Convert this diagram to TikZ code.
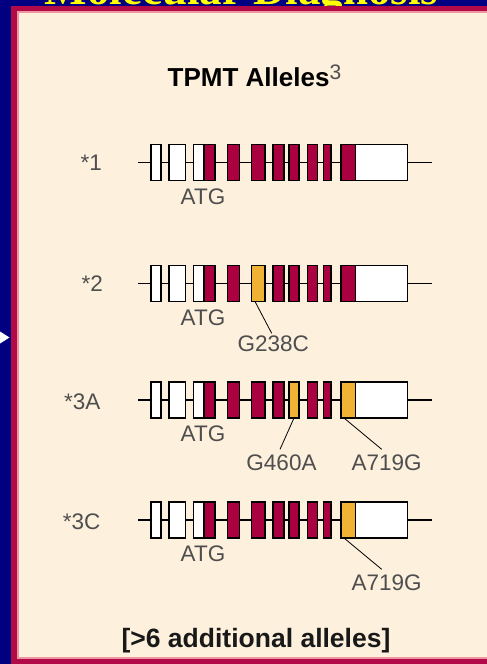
\documentclass[tikz,border=0pt]{standalone}
\usepackage{fontspec}
\setmainfont{Liberation Sans}
\newfontfamily\hdrserif{Liberation Serif}
\usetikzlibrary{calc}
\definecolor{navy}{RGB}{0,0,128}
\definecolor{bordred}{RGB}{178,10,72}
\definecolor{pinkline}{RGB}{236,150,160}
\definecolor{beige}{RGB}{253,240,221}
\definecolor{exred}{RGB}{170,0,64}
\definecolor{exorange}{RGB}{240,178,52}
\definecolor{labgray}{RGB}{78,78,78}
\definecolor{hdryellow}{RGB}{255,255,0}
\newcommand\xon[5]{\node[exon,fill=#5,minimum width={#3-#2}] (#1) at ({(#2+#3)/2},#4) {};}
\newcommand\allelerow[5]{%
 \coordinate (#1L) at (138,#2);
 \coordinate (#1R) at (432,#2);
 \draw[intron] (#1L) -- (#1R);
 \xon{#1e1}{151}{161}{#2}{white}
 \xon{#1e2}{169}{185.5}{#2}{white}
 \xon{#1e3a}{193.5}{204}{#2}{white}
 \xon{#1e3}{204}{215}{#2}{exred}
 \xon{#1e4}{227.5}{239.5}{#2}{exred}
 \xon{#1e5}{251.5}{265}{#2}{#3}
 \xon{#1e6}{273}{284}{#2}{exred}
 \xon{#1e7}{289}{299}{#2}{#4}
 \xon{#1e8}{307.5}{317.3}{#2}{exred}
 \xon{#1e9}{323.3}{331}{#2}{exred}
 \xon{#1e10}{341}{355.5}{#2}{#5}
 \xon{#1e11}{355.5}{407.5}{#2}{white}
 \node[lbl] (#1atg) at (203,{#2+34}) {ATG};
}
\begin{document}
\begin{tikzpicture}[x=1pt,y=-1pt,
  exon/.style={draw=black,line width=1.2pt,minimum height=36pt,inner sep=0pt,outer sep=0pt},
  intron/.style={draw=black,line width=1.2pt},
  lbl/.style={text=labgray,inner sep=0pt,font=\fontsize{22.5}{26}\selectfont},
  rowlbl/.style={lbl,anchor=east},
  leader/.style={draw=black,line width=0.8pt}]
\useasboundingbox (0,0) rectangle (487,664);
% background
\fill[navy] (0,0) rectangle (487,664);
\node[anchor=base,inner sep=0pt,text=hdryellow,font=\hdrserif\bfseries\fontsize{45}{50}\selectfont] (hdr) at (241.5,4.5) {Molecular Diagnosis};
\fill[white] (0,331.5) -- (9.5,337.5) -- (0,343.5) -- cycle;
% panel
\fill[bordred] (10.5,6) rectangle (495,670);
\fill[pinkline] (17,11) rectangle (495,658.5);
\fill[beige] (18.5,12.5) rectangle (495,656.5);
% title
\node[anchor=base west,inner sep=0pt,font=\fontsize{26}{30}\selectfont] (title) at (167.5,86.7)
  {\bfseries TPMT Alleles\raisebox{7pt}{\mdseries\fontsize{21}{24}\selectfont\color{labgray}3}};
% rows
\allelerow{a}{162.5}{exred}{exred}{exred}
\node[rowlbl] (an) at (102,162.5) {*1};
\allelerow{b}{283.5}{exorange}{exred}{exred}
\node[rowlbl] (bn) at (103,283.5) {*2};
\node[lbl] (bm1) at (273.3,344) {G238C};
\draw[leader] ($(be5.south west)+(3.5,0)$) -- ($(bm1.north)+(-1.6,-2.5)$);
\allelerow{c}{400}{exred}{exorange}{exorange}
\node[rowlbl] (cn) at (100.5,401.5) {*3A};
\node[lbl] (cm1) at (281.5,462.5) {G460A};
\node[lbl] (cm2) at (386.7,462.5) {A719G};
\draw[leader] (ce7.south) -- ($(cm1.north)+(-1.5,-5)$);
\draw[leader] ($(ce10.south west)+(3,0)$) -- ($(cm2.north)+(-5,-5)$);
\allelerow{d}{520}{exred}{exred}{exorange}
\node[rowlbl] (dn) at (100.5,521.5) {*3C};
\node[lbl] (dm2) at (386.7,582.5) {A719G};
\draw[leader] ($(de10.south west)+(3,0)$) -- ($(dm2.north)+(-5,-5)$);
% footer
\node[inner sep=0pt,text=black!90,font=\bfseries\fontsize{26.5}{30}\selectfont] (foot) at (256,641) {[>6 additional alleles]};
\end{tikzpicture}
\end{document}
